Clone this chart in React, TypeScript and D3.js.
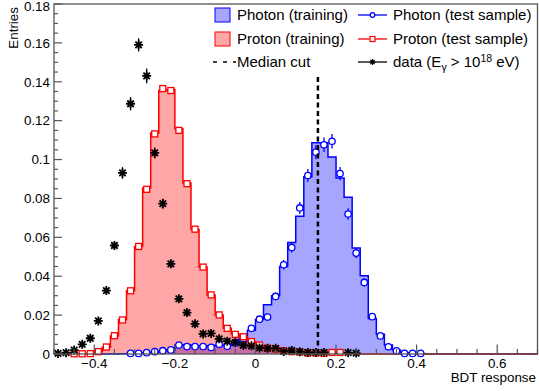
import { useEffect, useRef } from "react";
import * as d3 from "d3";

// 60 bins of width 0.02 from -0.5 to 0.7
const binStart = -0.5;
const binWidth = 0.02;
const nBins = 60;

const photonTrain = [
  0, 0, 0, 0, 0, 0, 0, 0,
  0.0001, 0.0002, 0.0004, 0.0006, 0.0009, 0.0014, 0.002,
  0.0048, 0.0046, 0.0042, 0.004, 0.0042, 0.0045, 0.0045, 0.0055, 0.0078, 0.0122,
  0.0177, 0.0253, 0.03, 0.045, 0.0574, 0.0708, 0.0912, 0.1086, 0.1086, 0.1013,
  0.0905, 0.0806, 0.0545, 0.0402, 0.0182, 0.0101, 0.0046, 0.002, 0.0006, 0.0003,
  0.0002, 0, 0, 0, 0, 0, 0, 0, 0, 0, 0, 0, 0, 0, 0,
];

const protonTrain = [
  0, 0, 0,
  0.0001, 0.0003, 0.0012, 0.0035, 0.0092, 0.0177, 0.0325,
  0.0553, 0.0854, 0.1137, 0.1355, 0.136, 0.1158, 0.088, 0.064, 0.0447, 0.0304,
  0.0201, 0.0132, 0.0103, 0.0089, 0.0064, 0.0043, 0.0029, 0.0026, 0.0017, 0.0012,
  0.001, 0.0005, 0.0004, 0.0003, 0.0004, 0.0004, 0.0002, 0.0001,
  0, 0, 0, 0, 0, 0, 0, 0, 0, 0, 0, 0, 0, 0, 0, 0, 0, 0, 0, 0, 0, 0,
];

const photonTest = [
  null, null, null, null, null, null, null, null, null,
  0.0003, 0.0003, 0.0007, 0.0012, 0.0017, 0.0021,
  0.0046, 0.0038, 0.0038, 0.0038, 0.0034, 0.005, 0.004, 0.0057, 0.008, 0.0132,
  0.0179, 0.019, 0.0296, 0.0459, 0.0548, 0.0751, 0.0918, 0.1038, 0.1076, 0.1094,
  0.0928, 0.072, 0.0519, 0.0368, 0.0192, 0.0093, 0.0037, 0.0016, 0.0003, 0.0003, 0.0003,
  null, null, null, null, null, null, null, null, null, null, null, null, null, null,
];
const photonTestErr = [
  0, 0, 0, 0, 0, 0, 0, 0, 0,
  0.0002, 0.0002, 0.0003, 0.0004, 0.0005, 0.0005,
  0.0008, 0.0007, 0.0007, 0.0007, 0.0007, 0.0008, 0.0007, 0.0008, 0.001, 0.0013,
  0.0015, 0.0016, 0.0019, 0.0024, 0.0026, 0.0031, 0.0034, 0.0036, 0.0037, 0.0037,
  0.0034, 0.003, 0.0026, 0.0022, 0.0016, 0.0011, 0.0007, 0.0005, 0.0002, 0.0002, 0.0002,
  0, 0, 0, 0, 0, 0, 0, 0, 0, 0, 0, 0, 0, 0,
];

const protonTest = [
  null, null,
  0.0001, 0.0001, 0.0002, 0.0012, 0.0036, 0.0094, 0.0175, 0.0325,
  0.0553, 0.0847, 0.1132, 0.1365, 0.1355, 0.115, 0.0876, 0.0642, 0.0447, 0.0304,
  0.0201, 0.0132, 0.0101, 0.0089, 0.0064, 0.0046, 0.003, 0.0026, 0.0017, 0.0012,
  0.001, 0.0005, 0.0005, 0.0003, 0.0008, 0.0008,
  null, null, null, null, null, null, null, null, null, null, null, null,
  null, null, null, null, null, null, null, null, null, null, null, null,
];

const dataVals = [
  0.0003, 0.0007, 0.002, 0.005, 0.0081, 0.017, 0.0326, 0.0558, 0.0931, 0.1287,
  0.159, 0.143, 0.1034, 0.0773, 0.0464, 0.0284, 0.0213, 0.0155, 0.0103, 0.0106,
  0.0078, 0.0066, 0.006, 0.0045, 0.0042, 0.0031, 0.0029, 0.0029, 0.0013, 0.0018,
  0.0012, 0.0008, 0.0008, 0.0008, null, null, 0.0007, 0.0005,
  null, null, null, null, null, null, null, null, null, null, null,
  null, null, null, null, null, null, null, null, null, null, null,
];
const dataErr = [
  0, 0, 0.0004, 0.0006, 0.0008, 0.0012, 0.0016, 0.0022, 0.003, 0.0034,
  0.0034, 0.0038, 0.0028, 0.0025, 0.002, 0.0015, 0.0013, 0.0011, 0.0009, 0.0009,
  0.0008, 0.0007, 0.0007, 0.0006, 0.0006, 0.0005, 0.0005, 0.0005, 0.0003, 0.0004,
  0.0003, 0.0002, 0.0002, 0.0002, 0, 0, 0.0002, 0.0002,
];

const medianCut = 0.155;
const medianTop = 0.1443;

const xMajor = [-0.4, -0.2, 0, 0.2, 0.4, 0.6];
const yMajor = [0, 0.02, 0.04, 0.06, 0.08, 0.1, 0.12, 0.14, 0.16, 0.18];

const FONT = "'Liberation Sans', Arial, Helvetica, sans-serif";

const App = () => {
  const svgRef = useRef<SVGSVGElement>(null);

  useEffect(() => {
    if (!svgRef.current) return;

    const width = 539;
    const height = 391;
    const margin = { top: 4, right: 1.5, bottom: 37, left: 54 };

    const svg = d3.select(svgRef.current);
    svg.selectAll("*").remove();

    const x = d3
      .scaleLinear()
      .domain([-0.5, 0.7])
      .range([margin.left, width - margin.right]);
    const y = d3
      .scaleLinear()
      .domain([0, 0.18])
      .range([height - margin.bottom, margin.top]);

    const edges = d3.range(nBins + 1).map((i) => binStart + i * binWidth);
    const centers = d3.range(nBins).map((i) => binStart + (i + 0.5) * binWidth);

    const steps = (vals: number[]) =>
      [...vals.map((v, i) => [edges[i], v]), [edges[nBins], vals[nBins - 1]]] as [number, number][];

    const area = d3
      .area<[number, number]>()
      .x((d) => x(d[0]))
      .y0(y(0))
      .y1((d) => y(d[1]))
      .curve(d3.curveStepAfter);
    const line = d3
      .line<[number, number]>()
      .x((d) => x(d[0]))
      .y((d) => y(d[1]))
      .curve(d3.curveStepAfter);

    // training histograms
    const hists = [
      { vals: photonTrain, fill: "rgba(0,0,255,0.35)", stroke: "#0000ff" },
      { vals: protonTrain, fill: "rgba(255,0,0,0.35)", stroke: "#ff0000" },
    ];
    hists.forEach((h) => {
      svg.append("path").attr("d", area(steps(h.vals))).attr("fill", h.fill);
    });
    hists.forEach((h) => {
      svg
        .append("path")
        .attr("d", line(steps(h.vals)))
        .attr("fill", "none")
        .attr("stroke", h.stroke)
        .attr("stroke-width", 1.5);
    });

    // test samples
    const pt = centers
      .map((c, i) => ({ c, v: photonTest[i], e: photonTestErr[i] }))
      .filter((d) => d.v !== null) as { c: number; v: number; e: number }[];
    svg
      .append("g")
      .selectAll("line")
      .data(pt.filter((d) => d.e > 0))
      .join("line")
      .attr("x1", (d) => x(d.c))
      .attr("x2", (d) => x(d.c))
      .attr("y1", (d) => y(d.v - d.e))
      .attr("y2", (d) => y(d.v + d.e))
      .attr("stroke", "#0000ff")
      .attr("stroke-width", 1.3);
    svg
      .append("g")
      .selectAll("circle")
      .data(pt)
      .join("circle")
      .attr("cx", (d) => x(d.c))
      .attr("cy", (d) => y(d.v))
      .attr("r", 3.2)
      .attr("fill", "white")
      .attr("stroke", "#0000ff")
      .attr("stroke-width", 1.3);

    const rt = centers
      .map((c, i) => ({ c, v: protonTest[i] }))
      .filter((d) => d.v !== null) as { c: number; v: number }[];
    svg
      .append("g")
      .selectAll("rect")
      .data(rt)
      .join("rect")
      .attr("x", (d) => x(d.c) - 3)
      .attr("y", (d) => y(d.v) - 3)
      .attr("width", 6)
      .attr("height", 6)
      .attr("fill", "white")
      .attr("stroke", "#ff0000")
      .attr("stroke-width", 1.3);

    // data stars
    const starPath = (cx: number, cy: number, r: number) => {
      const d = r * 0.72;
      return `M${cx - r},${cy}H${cx + r}M${cx},${cy - r}V${cy + r}M${cx - d},${cy - d}L${cx + d},${cy + d}M${cx - d},${cy + d}L${cx + d},${cy - d}`;
    };
    const dt = centers
      .map((c, i) => ({ c, v: dataVals[i], e: dataErr[i] || 0 }))
      .filter((d) => d.v !== null) as { c: number; v: number; e: number }[];
    svg
      .append("g")
      .selectAll("line")
      .data(dt.filter((d) => d.e > 0))
      .join("line")
      .attr("x1", (d) => x(d.c))
      .attr("x2", (d) => x(d.c))
      .attr("y1", (d) => y(d.v - d.e))
      .attr("y2", (d) => y(d.v + d.e))
      .attr("stroke", "#000")
      .attr("stroke-width", 1.3);
    svg
      .append("g")
      .selectAll("path")
      .data(dt)
      .join("path")
      .attr("d", (d) => starPath(x(d.c), y(d.v), 4.5))
      .attr("stroke", "#000")
      .attr("stroke-width", 1.8);

    // median cut
    svg
      .append("line")
      .attr("x1", x(medianCut))
      .attr("x2", x(medianCut))
      .attr("y1", y(0))
      .attr("y2", y(medianTop))
      .attr("stroke", "#000")
      .attr("stroke-width", 2.5)
      .attr("stroke-dasharray", "5 3.5");

    // frame and ticks
    const axisColor = "#555";
    svg
      .append("rect")
      .attr("x", margin.left)
      .attr("y", margin.top)
      .attr("width", width - margin.left - margin.right)
      .attr("height", height - margin.top - margin.bottom)
      .attr("fill", "none")
      .attr("stroke", axisColor)
      .attr("stroke-width", 1.3);

    const yMinor = d3.range(0, 0.18001, 0.005);
    svg
      .append("g")
      .selectAll("line")
      .data(yMinor)
      .join("line")
      .attr("x1", margin.left)
      .attr("x2", (d) => margin.left + (yMajor.some((m) => Math.abs(m - d) < 1e-6) ? 8 : 4))
      .attr("y1", (d) => y(d))
      .attr("y2", (d) => y(d))
      .attr("stroke", axisColor)
      .attr("stroke-width", 1.2);

    const xMinor = d3.range(-0.5, 0.70001, 0.05);
    svg
      .append("g")
      .selectAll("line")
      .data(xMinor)
      .join("line")
      .attr("x1", (d) => x(d))
      .attr("x2", (d) => x(d))
      .attr("y1", y(0))
      .attr("y2", (d) => y(0) - (xMajor.some((m) => Math.abs(m - d) < 1e-6) ? 9.5 : 5))
      .attr("stroke", axisColor)
      .attr("stroke-width", 1.2);

    const fmt = (d: number) => (Math.abs(d) < 1e-9 ? "0" : d3.format("~g")(+d.toFixed(2)));

    svg
      .append("g")
      .selectAll("text")
      .data(yMajor)
      .join("text")
      .attr("x", margin.left - 4)
      .attr("y", (d) => Math.max(y(d) + 4.8, 10.8))
      .attr("text-anchor", "end")
      .attr("font-family", FONT)
      .attr("font-size", 13.4)
      .text(fmt);

    svg
      .append("g")
      .selectAll("text")
      .data(xMajor)
      .join("text")
      .attr("x", (d) => x(d))
      .attr("y", 368)
      .attr("text-anchor", "middle")
      .attr("font-family", FONT)
      .attr("font-size", 13.4)
      .text(fmt);

    svg
      .append("text")
      .attr("x", 536)
      .attr("y", 381.5)
      .attr("text-anchor", "end")
      .attr("font-family", FONT)
      .attr("font-size", 13.4)
      .text("BDT response");

    svg
      .append("text")
      .attr("transform", "translate(18,7) rotate(-90)")
      .attr("text-anchor", "end")
      .attr("font-family", FONT)
      .attr("font-size", 13.4)
      .text("Entries");

    // legend
    const lg = svg.append("g").attr("font-family", FONT).attr("font-size", 15);
    const rows = [15, 39, 62];
    lg.append("rect").attr("x", 215).attr("y", rows[0] - 7).attr("width", 15).attr("height", 14)
      .attr("fill", "rgba(0,0,255,0.35)").attr("stroke", "#0000ff").attr("stroke-width", 1);
    lg.append("rect").attr("x", 215).attr("y", rows[1] - 7).attr("width", 15).attr("height", 14)
      .attr("fill", "rgba(255,0,0,0.35)").attr("stroke", "#ff0000").attr("stroke-width", 1);
    lg.append("line").attr("x1", 213).attr("x2", 236).attr("y1", rows[2]).attr("y2", rows[2])
      .attr("stroke", "#000").attr("stroke-width", 1.5).attr("stroke-dasharray", "4 6");
    lg.append("text").attr("x", 237).attr("y", rows[0] + 5.4).text("Photon (training)");
    lg.append("text").attr("x", 237).attr("y", rows[1] + 5.4).text("Proton (training)");
    lg.append("text").attr("x", 237).attr("y", rows[2] + 5.4).text("Median cut");

    const lx1 = 358;
    const lx2 = 387;
    const lc = (lx1 + lx2) / 2;
    lg.append("line").attr("x1", lx1).attr("x2", lx2).attr("y1", rows[0]).attr("y2", rows[0])
      .attr("stroke", "#0000ff").attr("stroke-width", 1.3);
    lg.append("circle").attr("cx", lc).attr("cy", rows[0]).attr("r", 2.3)
      .attr("fill", "white").attr("stroke", "#0000ff").attr("stroke-width", 1.2);
    lg.append("line").attr("x1", lx1).attr("x2", lx2).attr("y1", rows[1]).attr("y2", rows[1])
      .attr("stroke", "#ff0000").attr("stroke-width", 1.3);
    lg.append("rect").attr("x", lc - 2.5).attr("y", rows[1] - 2.5).attr("width", 5).attr("height", 5)
      .attr("fill", "white").attr("stroke", "#ff0000").attr("stroke-width", 1.2);
    lg.append("line").attr("x1", lx1).attr("x2", lx2).attr("y1", rows[2]).attr("y2", rows[2])
      .attr("stroke", "#000").attr("stroke-width", 1.3);
    lg.append("path").attr("d", starPath(lc, rows[2], 3)).attr("stroke", "#000").attr("stroke-width", 1.2);

    lg.append("text").attr("x", 393).attr("y", rows[0] + 5.4).text("Photon (test sample)");
    lg.append("text").attr("x", 393).attr("y", rows[1] + 5.4).text("Proton (test sample)");
    const t = lg.append("text").attr("x", 393).attr("y", rows[2] + 5.4);
    t.append("tspan").text("data (E");
    t.append("tspan").attr("font-size", 10.5).attr("dy", 4).text("γ");
    t.append("tspan").attr("dy", -4).text(" > 10");
    t.append("tspan").attr("font-size", 10.5).attr("dy", -5.5).text("18");
    t.append("tspan").attr("dy", 5.5).text(" eV)");
  }, []);

  return (
    <>
      <style>{"body{margin:0}"}</style>
      <svg ref={svgRef} width={539} height={391} style={{ display: "block", background: "white" }}></svg>
    </>
  );
};

export default App;
